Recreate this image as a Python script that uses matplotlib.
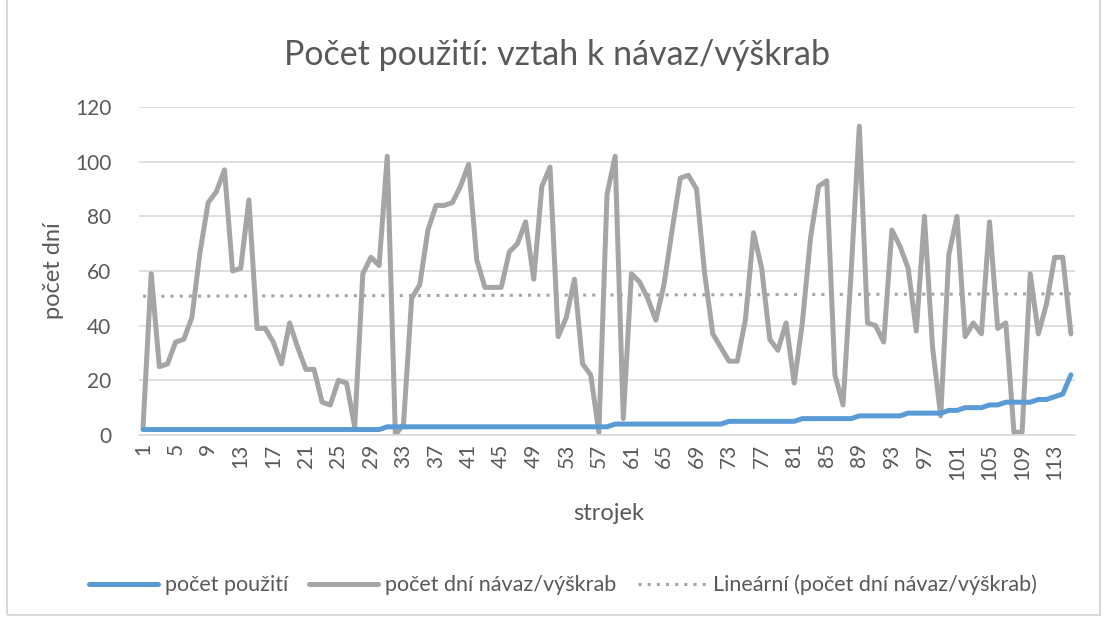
import matplotlib
matplotlib.use("Agg")
import matplotlib.pyplot as plt
import numpy as np
from matplotlib.patches import Rectangle

plt.rcParams['font.family'] = ['Lato', 'DejaVu Sans']

strojek = list(range(1, 116))
pocet_pouziti = [2]*30 + [3]*28 + [4]*14 + [5]*9 + [6]*7 + [7]*6 + [8]*5 + [9]*2 + \
    [10]*3 + [11]*2 + [12]*4 + [13]*2 + [14, 15, 22]
pocet_dni = [3, 59, 25, 26, 34, 35, 43, 67, 85, 89, 97, 60, 61, 86, 39, 39, 34, 26, 41, 32,
             24, 24, 12, 11, 20, 19, 3, 59, 65, 62, 102, 0, 4, 50, 55, 75, 84, 84, 85, 91,
             99, 64, 54, 54, 54, 67, 70, 78, 57, 91, 98, 36, 43, 57, 26, 22, 1, 88, 102, 6,
             59, 56, 50, 42, 55, 75, 94, 95, 90, 59, 37, 32, 27, 27, 42, 74, 61, 35, 31, 41,
             19, 41, 72, 91, 93, 22, 11, 60, 113, 41, 40, 34, 75, 69, 61, 38, 80, 32, 7, 66,
             80, 36, 41, 37, 78, 39, 41, 1, 1, 59, 37, 48, 65, 65, 37]
tick_labels = [str(v) for v in range(1, 116, 4)]

title = "Počet použití: vztah k návaz/výškrab"
label_a = "počet použití"
label_b = "počet dní návaz/výškrab"
label_trend = "Lineární (počet dní návaz/výškrab)"

txt = '#595959'
grid = '#d9d9d9'

fig = plt.figure(figsize=(11.04, 6.19), dpi=100)
ax = fig.add_axes([139/1104, 1-435/619, (1075-139)/1104, (435-107)/619])

x = np.array(strojek)
ax.plot(x, pocet_pouziti, color='#5B9BD5', lw=3.6, solid_capstyle='round', solid_joinstyle='round', label=label_a, zorder=3)
ax.plot(x, pocet_dni, color='#A5A5A5', lw=3.6, solid_capstyle='round', solid_joinstyle='round', label=label_b, zorder=2)
k, q = np.polyfit(x, pocet_dni, 1)
ax.plot(x, k*x + q, color='#A5A5A5', lw=2.2, ls=(0, (1, 2.0)), label=label_trend, zorder=2)

ax.set_xlim(0.5, 115.5)
ax.set_ylim(0, 120)
ax.set_yticks(range(0, 121, 20))
ax.set_xticks(range(1, 116, 4))
ax.set_xticklabels(tick_labels, rotation=90)
ax.grid(axis='y', color=grid, lw=1.2)
ax.set_axisbelow(True)
for s in ['top', 'right', 'left']:
    ax.spines[s].set_visible(False)
ax.spines['bottom'].set_color(grid)
ax.spines['bottom'].set_linewidth(1.2)
ax.tick_params(length=0, labelsize=15, colors=txt, pad=6)
ax.tick_params(axis='y', pad=20)

ax.set_xlabel('strojek', fontsize=17, color=txt)
ax.set_ylabel('počet dní', fontsize=17, color=txt)
ax.xaxis.set_label_coords((609-139)/(1075-139), -(503-435)/(435-107))
ax.yaxis.set_label_coords(-(139-64)/(1075-139), 0.5)
fig.text(557/1104, 1-55/619, title, ha='center', va='center', fontsize=24.5, color=txt)

fig.legend(loc='center', bbox_to_anchor=(563/1104, 1-585/619), ncol=3, frameon=False,
           fontsize=15.5, labelcolor=txt, handlelength=3.2, columnspacing=1.0, handletextpad=0.3)

fig.patches.append(Rectangle((7/1104, 4/619), 1093/1104, 1.0, transform=fig.transFigure,
                             fill=False, edgecolor=grid, lw=1.5))
fig.savefig('out.png', dpi=100)
